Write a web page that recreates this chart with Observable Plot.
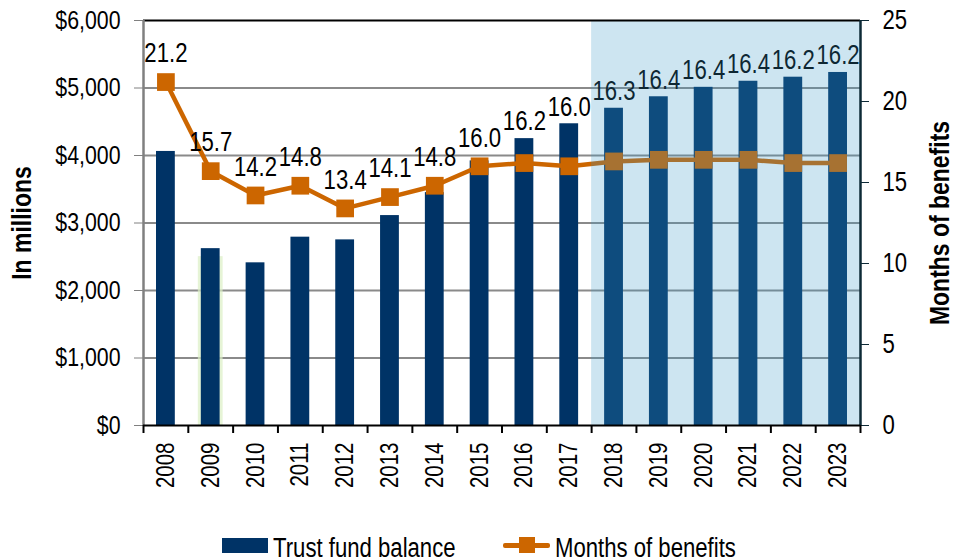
<!DOCTYPE html>
<html>
<head>
<meta charset="utf-8">
<script src="https://cdn.jsdelivr.net/npm/d3@7"></script>
<script src="https://cdn.jsdelivr.net/npm/@observablehq/plot@0.6"></script>
<style>
  html, body { margin: 0; padding: 0; background: #fff; }
  #wrap { position: relative; width: 953px; height: 560px; overflow: hidden;
          font-family: "Liberation Sans", Arial, sans-serif; }
  #legend { position: relative; height: 35px; font-size: 27px; color: #000; }
  #legend .sw { position: absolute; }
  #legend .lbl { position: absolute; top: 8px; line-height: 30px; white-space: nowrap;
                 transform: scaleX(0.82); transform-origin: left center; }
</style>
</head>
<body>
<div id="wrap">
  <div id="chart"></div>
  <div id="legend">
    <div class="sw" style="left:222px; top:13px; width:46px; height:15px; background:#003366;"></div>
    <div class="lbl" style="left:273px;">Trust fund balance</div>
    <div class="sw" style="left:503px; top:18px; width:47px; height:5px; background:#cc6600; border-radius:2px;"></div>
    <div class="sw" style="left:519px; top:12px; width:16px; height:16px; background:#cc6600;"></div>
    <div class="lbl" style="left:555px;">Months of benefits</div>
  </div>
</div>
<script>
// ---- data ----
const years = [2008, 2009, 2010, 2011, 2012, 2013, 2014, 2015, 2016, 2017, 2018, 2019, 2020, 2021, 2022, 2023];
const balance = [4060, 2620, 2410, 2790, 2750, 3110, 3450, 3920, 4250, 4470, 4700, 4870, 5010, 5100, 5160, 5230];
const months = [21.2, 15.7, 14.2, 14.8, 13.4, 14.1, 14.8, 16.0, 16.2, 16.0, 16.3, 16.4, 16.4, 16.4, 16.2, 16.2];
const forecastStart = 2018;
const leftTicks = [0, 1000, 2000, 3000, 4000, 5000, 6000];
const rightTicks = [0, 5, 10, 15, 20, 25];
const leftTitle = "In millions";
const rightTitle = "Months of benefits";

// ---- derived ----
const leftMax = d3.max(leftTicks);
const rightMax = d3.max(rightTicks);
const k = leftMax / rightMax; // months -> left-axis units
const data = years.map((year, i) => ({year, balance: balance[i], months: months[i]}));
const first = d3.min(years), last = d3.max(years);
const boundaries = [...years.map(y => y - 0.5), last + 0.5];

const font = '"Liberation Sans", Arial, sans-serif';
const navy = "#003366", orange = "#cc6600";

const chart = Plot.plot({
  width: 953,
  height: 525,
  marginLeft: 143,
  marginRight: 93,
  marginTop: 20,
  marginBottom: 100,
  style: {fontFamily: font, fontSize: "26px", color: "#000", background: "#fff"},
  x: {type: "linear", domain: [first - 0.5, last + 0.5], axis: null},
  y: {domain: [0, leftMax], axis: null},
  marks: [
    // gridlines
    Plot.ruleY(leftTicks.filter(t => t > 0 && t < leftMax), {stroke: "#8a8a8a", strokeWidth: 2}),
    // 2009 faint glow
    Plot.rectY(data.filter(d => d.year === 2009), {x1: d => d.year - 0.5, x2: d => d.year + 0.5, y: "balance",
      fill: "#dcefc4", fillOpacity: 0.7, insetLeft: 10, insetRight: 10, insetTop: 8}),
    // bars
    Plot.rectY(data, {x1: d => d.year - 0.5, x2: d => d.year + 0.5, y: "balance", fill: navy, insetLeft: 13, insetRight: 13}),
    // line
    Plot.line(data, {x: "year", y: d => d.months * k, stroke: orange, strokeWidth: 4.5}),
    Plot.dot(data, {x: "year", y: d => d.months * k, symbol: "square", r: 10, fill: orange, stroke: "none"}),
    // labels
    Plot.text(data, {x: "year", y: d => Math.max(d.balance + 250, d.months * k + 420),
      text: d => d.months.toFixed(1), fontSize: 27, fill: "#000"}),
    // forecast shading
    Plot.rect([forecastStart], {x1: d => d - 0.5, x2: last + 0.5, y1: 0, y2: leftMax,
      fill: "rgb(56,152,198)", fillOpacity: 0.25}),
    // frame lines
    Plot.ruleY([leftMax], {stroke: "#000", strokeWidth: 2}),
    Plot.ruleX([first - 0.5], {y1: 0, y2: leftMax, stroke: "#808080", strokeWidth: 2.5}),
    Plot.ruleX([last + 0.5], {y1: 0, y2: leftMax, stroke: "#0d2a36", strokeWidth: 2.5}),
    Plot.ruleY([0], {stroke: "#000", strokeWidth: 2}),
    // left axis
    Plot.axisY({anchor: "left", ticks: leftTicks, tickSize: 9, tickPadding: 14, stroke: "#808080",
      tickFormat: d => "$" + d3.format(",")(d), label: null, fontSize: 26}),
    // right axis
    Plot.axisY({anchor: "right", ticks: rightTicks.map(t => t * k), tickSize: 8, tickPadding: 14, stroke: "#0d2a36",
      tickFormat: d => String(Math.round(d / k)), label: null, fontSize: 27}),
    // x axis boundaries ticks
    Plot.axisX({ticks: boundaries, tickSize: 8, tickFormat: () => "", stroke: "#000", strokeWidth: 2, label: null}),
    // x labels
    Plot.axisX({ticks: years, tickSize: 0, tickPadding: 17, tickRotate: -90, tickFormat: d => String(d), label: null, fontSize: 25}),
    // axis titles
    Plot.text([leftTitle], {frameAnchor: "left", textAnchor: "middle", dx: -121, rotate: -90, text: d => d, fontWeight: "bold", fontSize: 28}),
    Plot.text([rightTitle], {frameAnchor: "right", textAnchor: "middle", dx: 80, rotate: -90, text: d => d, fontWeight: "bold", fontSize: 28})
  ]
});
document.getElementById("chart").appendChild(chart);

// emulate the condensed (narrow) typeface of the original
chart.querySelectorAll("text").forEach(el => {
  if (!el.textContent) return;
  const L = el.getComputedTextLength();
  if (L > 0) {
    el.setAttribute("textLength", (L * 0.82).toFixed(2));
    el.setAttribute("lengthAdjust", "spacingAndGlyphs");
  }
});
</script>
</body>
</html>
